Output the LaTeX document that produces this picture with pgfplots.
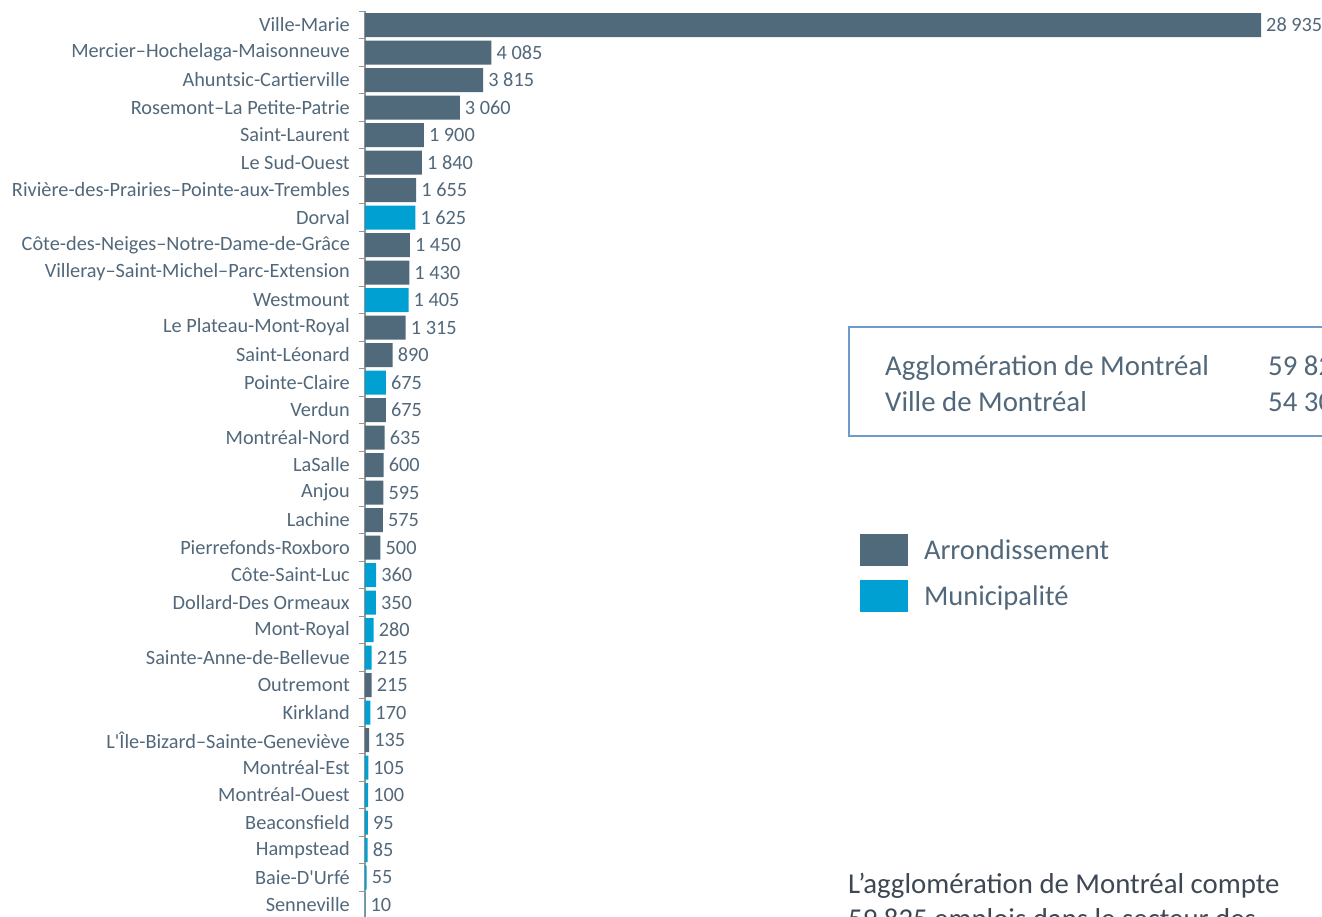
\documentclass[border=0pt]{standalone}
\usepackage{pgfplots}
\pgfplotsset{compat=1.18}
\usepackage{pgfplotstable}
\usepackage{fontspec}
\setmainfont{Carlito}
\definecolor{arr}{RGB}{80,106,124}
\definecolor{mun}{RGB}{0,160,210}
\definecolor{txt}{RGB}{82,104,122}
\definecolor{btxt}{RGB}{62,72,84}
\definecolor{boxc}{RGB}{110,155,200}
\definecolor{axc}{RGB}{150,150,150}

\pgfplotstableread{
y v
0 28935
1 4085
2 3815
3 3060
4 1900
5 1840
6 1655
8 1450
9 1430
11 1315
12 890
14 675
15 635
16 600
17 595
18 575
19 500
24 215
26 135
}\arrdata

\pgfplotstableread{
y v
7 1625
10 1405
13 675
20 360
21 350
22 280
23 215
25 170
27 105
28 100
29 95
30 85
31 55
32 10
}\mundata

\begin{document}
\begin{tikzpicture}[x=1pt,y=1pt]
\useasboundingbox (0,0) rectangle (1322,916);
\clip (0,0) rectangle (1322,916);
\begin{axis}[
  at={(365pt,904.75pt)}, anchor=north west,
  scale only axis, width=896pt, height=907.5pt,
  xmin=0, xmax=28935, ymin=-0.5, ymax=32.5, y dir=reverse,
  axis x line=none, axis y line*=left,
  axis line style={axc, line width=1.2pt},
  clip=false,
  ytick={0,...,32},
  yticklabels={Ville-Marie,Mercier–Hochelaga-Maisonneuve,Ahuntsic-Cartierville,Rosemont–La Petite-Patrie,Saint-Laurent,Le Sud-Ouest,Rivière-des-Prairies–Pointe-aux-Trembles,Dorval,Côte-des-Neiges–Notre-Dame-de-Grâce,Villeray–Saint-Michel–Parc-Extension,Westmount,Le Plateau-Mont-Royal,Saint-Léonard,Pointe-Claire,Verdun,Montréal-Nord,LaSalle,Anjou,Lachine,Pierrefonds-Roxboro,Côte-Saint-Luc,Dollard-Des Ormeaux,Mont-Royal,Sainte-Anne-de-Bellevue,Outremont,Kirkland,L\textquotesingle Île-Bizard–Sainte-Geneviève,Montréal-Est,Montréal-Ouest,Beaconsfield,Hampstead,Baie-D\textquotesingle Urfé,Senneville},
  major tick length=0pt,
  minor ytick={-0.5,0.5,...,32.5},
  minor tick length=6pt,
  tick align=outside,
  minor tick style={axc, line width=1pt},
  yticklabel style={font=\fontsize{20.3}{24}\selectfont, text=txt, anchor=east, inner sep=0pt, xshift=-15pt},
  point meta=x,
  nodes near coords,
  every node near coord/.append style={font=\fontsize{20.3}{24}\selectfont, text=txt, anchor=west, inner sep=0pt, xshift=5pt},
  /pgf/number format/.cd, 1000 sep={\ }, assume math mode=true,
  /pgfplots/.cd,
  legend style={draw=none, fill=none, at={(0.5525,0.424)}, anchor=north west, inner sep=0pt, outer sep=0pt, row sep=14pt, column sep=16pt, font=\fontsize{28.5}{34}\selectfont, text=txt, nodes={inner sep=0pt, anchor=west}},
  legend cell align=left,
]
\addplot[xbar, fill=arr, draw=none, bar width=24pt, bar shift=0pt,
  legend image code/.code={\fill[arr] (0pt,-16pt) rectangle (48pt,16pt);}]
  table[x=v,y=y]{\arrdata};
\addlegendentry{Arrondissement}
\addplot[xbar, fill=mun, draw=none, bar width=24pt, bar shift=0pt,
  legend image code/.code={\fill[mun] (0pt,-16pt) rectangle (48pt,16pt);}]
  table[x=v,y=y]{\mundata};
\addlegendentry{Municipalité}
\end{axis}
\draw[boxc, line width=2.5pt] (849,589) rectangle (1360,480);
\begin{scope}[every node/.style={anchor=base west, inner sep=0pt, font=\fontsize{28.8}{34}\selectfont, text=txt}]
\node at (885,540) {Agglomération de Montréal};
\node at (1268,540) {59 825};
\node at (885,504) {Ville de Montréal};
\node at (1268,504) {54 305};
\end{scope}
\begin{scope}[every node/.style={anchor=base west, inner sep=0pt, font=\fontsize{28.8}{34}\selectfont, text=btxt}]
\node at (848,23) {L’agglomération de Montréal compte};
\node at (848,-12) {59 825 emplois dans le secteur des};
\end{scope}
\end{tikzpicture}
\end{document}
